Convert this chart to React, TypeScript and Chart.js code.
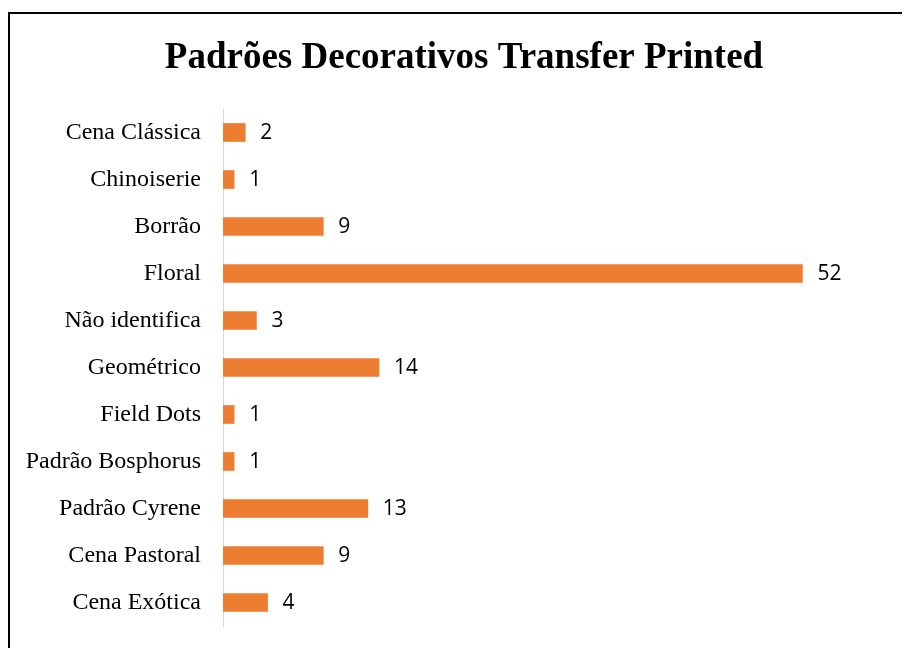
import React, { useEffect, useRef } from "react";
import { Chart, registerables } from "chart.js";

Chart.register(...registerables);

const titleText = "Padrões Decorativos Transfer Printed";
const categories = [
  "Cena Clássica",
  "Chinoiserie",
  "Borrão",
  "Floral",
  "Não identifica",
  "Geométrico",
  "Field Dots",
  "Padrão Bosphorus",
  "Padrão Cyrene",
  "Cena Pastoral",
  "Cena Exótica",
];
const values = [2, 1, 9, 52, 3, 14, 1, 1, 13, 9, 4];
const xMax = 56;

const barColor = "#ED7D31";

const framePlugin = {
  id: "frame",
  beforeDraw(chart: any) {
    const ctx = chart.ctx;
    ctx.save();
    ctx.fillStyle = "#ffffff";
    ctx.fillRect(0, 0, chart.width, chart.height);
    ctx.strokeStyle = "#000000";
    ctx.lineWidth = 2;
    ctx.beginPath();
    ctx.moveTo(1, chart.height);
    ctx.lineTo(1, 5);
    ctx.lineTo(chart.width, 5);
    ctx.stroke();
    // title
    ctx.fillStyle = "#000000";
    ctx.font = 'bold 37px "Liberation Serif"';
    ctx.textAlign = "center";
    ctx.textBaseline = "alphabetic";
    ctx.fillText(titleText, 456, 60);
    ctx.restore();
  },
};

const valueLabelPlugin = {
  id: "valueLabels",
  afterDatasetsDraw(chart: any) {
    const ctx = chart.ctx;
    const meta = chart.getDatasetMeta(0);
    const data = chart.data.datasets[0].data;
    ctx.save();
    ctx.font = '21px "Open Sans"';
    ctx.fillStyle = "#000000";
    ctx.textAlign = "left";
    ctx.textBaseline = "middle";
    meta.data.forEach((bar: any, i: number) => {
      ctx.fillText(String(data[i]), bar.x + 15, bar.y + 1);
    });
    ctx.restore();
  },
};

export default function App() {
  const ref = useRef<HTMLCanvasElement | null>(null);
  useEffect(() => {
    if (!ref.current) return;
    const chart = new Chart(ref.current, {
      type: "bar",
      data: {
        labels: categories,
        datasets: [
          {
            data: values,
            backgroundColor: barColor,
            borderWidth: 0,
            barThickness: 18,
          },
        ],
      },
      options: {
        indexAxis: "y",
        responsive: false,
        animation: false,
        layout: { padding: { left: 0, right: 63, top: 101, bottom: 22 } },
        plugins: {
          legend: { display: false },
          tooltip: { enabled: false },
          title: { display: false },
        },
        scales: {
          x: {
            display: false,
            min: 0,
            max: xMax,
          },
          y: {
            afterFit(scale: any) {
              scale.width = 215;
              scale.paddingTop = 0;
              scale.paddingBottom = 0;
            },
            grid: { display: false, drawTicks: false },
            border: { display: true, color: "#d9d9d9", width: 1 },
            ticks: {
              color: "#000000",
              padding: 22,
              autoSkip: false,
              font: { family: '"Liberation Serif"', size: 24 },
            },
          },
        },
      } as any,
      plugins: [framePlugin, valueLabelPlugin],
    });
    return () => chart.destroy();
  }, []);
  return <canvas ref={ref} width={902} height={640} style={{ display: "block" }} />;
}
